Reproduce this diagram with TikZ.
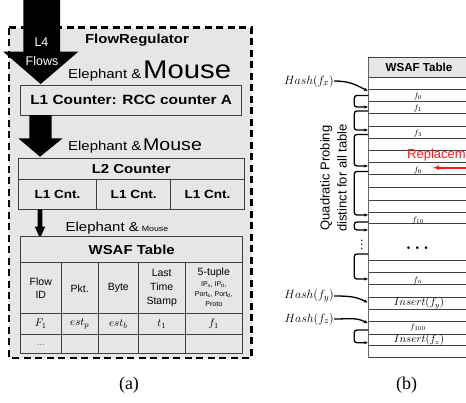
\documentclass[tikz,border=0pt]{standalone}
\usepackage{amsmath}
\usepackage{fontspec}
\usepackage{graphicx}
\setmainfont{Liberation Sans}
\newfontfamily\capfont{Liberation Serif}
\usetikzlibrary{arrows.meta,positioning}
\newcommand{\fsz}[1]{\fontsize{#1}{#1}\selectfont}
\newcommand{\wide}[1]{\scalebox{1.15}[1]{#1}}
\definecolor{panelgray}{HTML}{E6E6E6}
\definecolor{linegray}{HTML}{404040}
\definecolor{replred}{HTML}{FF1A1A}

\begin{document}
\begin{tikzpicture}[x=1pt,y=-1pt]
	\tikzstyle{every node}=[inner sep=0pt]
	\tikzstyle{box}=[draw=linegray, line width=0.9pt, fill=panelgray]
	\tikzstyle{grid}=[draw=linegray, line width=0.9pt]
	\tikzstyle{bigarrow}=[fill=black]
	\tikzstyle{probe}=[line width=1.3pt, rounded corners=2.5pt, -{Latex[length=4pt,width=3.5pt]}]
	\tikzstyle{hasharrow}=[line width=1.3pt, -{Latex[length=4pt,width=3.5pt]}]
	\tikzstyle{rowline}=[draw=black!75, line width=0.8pt]
	\useasboundingbox (0,0) rectangle (466,402);
	\clip (0,0) rectangle (466,402);

	\draw[line width=2.2pt, dash pattern=on 7pt off 4.5pt, fill=panelgray] (9.3,27.5) rectangle (251.5,358);
	\node[font=\bfseries\fsz{13}] (regulator) at (137,40) {\wide{FlowRegulator}};

	\node[anchor=base east, font=\fsz{13}] (eleph1) at (141.5,78) {\wide{Elephant \&}};
	\node[anchor=base west, font=\fsz{25.5}] (mouse1) at (143,78) {\wide{Mouse}};
	\draw[box] (20.7,85) rectangle (241.7,115);
	\node[font=\bfseries\fsz{13.4}] (l1counter) at (131.2,100) {\wide{L1 Counter: RCC counter A}};
	\fill[bigarrow] (23.3,-2) -- (60,-2) -- (60,51.7) -- (78.3,51.7) -- (40.7,84) -- (3.3,51.7) -- (23.3,51.7) -- cycle;
	\node[text=white, font=\fsz{12.5}] (l4) at (41.5,42.3) {L4};
	\node[text=white, font=\fsz{12.5}] (flows) at (42,61) {Flows};

	\node[anchor=base east, font=\fsz{13}] (eleph2) at (141.5,150.5) {\wide{Elephant \&}};
	\node[anchor=base west, font=\fsz{17}] (mouse2) at (143,150.5) {\wide{Mouse}};
	\fill[bigarrow] (29.3,115) -- (51.7,115) -- (51.7,138.3) -- (62.7,138.3) -- (40,156.7) -- (18.3,138.3) -- (29.3,138.3) -- cycle;
	\draw[box] (18.3,158.3) rectangle (244.3,209.3);
	\draw[grid] (18.3,179.3) -- (244.3,179.3);
	\draw[grid] (96.7,179.3) -- (96.7,209.3);
	\draw[grid] (170.7,179.3) -- (170.7,209.3);
	\node[font=\bfseries\fsz{13}] (l2counter) at (131.3,168.8) {\wide{L2 Counter}};
	\foreach \x [count=\i] in {57.5,133.7,207.5}
		\node[font=\bfseries\fsz{11.8}] (l1cnt\i) at (\x,194.3) {\wide{L1 Cnt.}};

	\fill[bigarrow] (37.7,209.3) -- (42.3,209.3) -- (42.3,226.7) -- (45.2,226.7) -- (40,238.3) -- (34.8,226.7) -- (37.7,226.7) -- cycle;
	\node[anchor=base east, font=\fsz{13}] (eleph3) at (139,231.5) {\wide{Elephant \&}};
	\node[anchor=base west, font=\fsz{7.6}] (mouse3) at (141.7,231.5) {\wide{Mouse}};

	\draw[box] (20.7,236.7) rectangle (242.7,353.3);
	\draw[grid] (20.7,262.3) -- (242.7,262.3);
	\draw[grid] (20.7,313.3) -- (242.7,313.3);
	\draw[grid] (20.7,334.3) -- (242.7,334.3);
	\foreach \x in {61,98.3,138.3,185}
		\draw[grid] (\x,262.3) -- (\x,353.3);
	\node[font=\bfseries\fsz{13}] (wsafa) at (131.7,249.5) {\wide{WSAF Table}};
	\node[font=\fontsize{10.5}{13.3}\selectfont, align=center] (hflow) at (40.8,288.3) {Flow\\ID};
	\node[font=\fsz{10.5}] (hpkt) at (79.7,288.3) {Pkt.};
	\node[font=\fsz{10.5}] (hbyte) at (118.3,288.3) {Byte};
	\node[font=\fontsize{10.5}{14}\selectfont, align=center] (hlast) at (161.7,288.3) {Last\\Time\\Stamp};
	\node[font=\fsz{10.5}] (htuple) at (213.8,272.7) {5-tuple};
	\node[font=\fontsize{7}{10}\selectfont, align=center] (htuplesub) at (213.8,294.3) {IP\textsubscript{s}, IP\textsubscript{d},\\Port\textsubscript{s}, Port\textsubscript{d},\\Proto};
	\node[font=\fsz{11}] (dflow) at (40.8,324) {$F_1$};
	\node[font=\fsz{11}] (dpkt) at (79.7,324) {$est_p$};
	\node[font=\fsz{11}] (dbyte) at (118.3,324) {$est_b$};
	\node[font=\fsz{11}] (dlast) at (161.7,324) {$t_1$};
	\node[font=\fsz{11}] (dtuple) at (213.8,324) {$f_1$};
	\node[font=\fsz{9}, text=black!60] (dmore) at (40.8,345) {...};

	\node[font=\capfont\fsz{18}] (capa) at (129,385) {(a)};

	\draw[box] (368.3,57.5) rectangle (472,77);
	\node[font=\bfseries\fsz{11.6}] (wsafb) at (419,67.5) {WSAF Table};
	\foreach \y in {89,101,113.5,126,138,150,162,174,187,200,212,223.5,260,272,284.5,297,309,321.7,334,345.7,357.7}
		\draw[rowline] (368.3,\y) -- (472,\y);
	\draw[draw=black!60, line width=0.8pt] (368.3,57.5) -- (368.3,357.7);
	\foreach \y/\t [count=\i] in {96.5/f_0, 108.5/f_1, 133/f_3, 170.5/f_6, 220/f_{10}, 280/f_n, 327/f_{100}}
		\node[font=\fsz{8}] (lab\i) at (418,\y) {$\t$};
	\node[font=\fsz{10.5}] (insy) at (419,303.3) {$Insert(f_y)$};
	\node[font=\fsz{10.5}] (insz) at (419,340) {$Insert(f_z)$};
	\node[font=\boldmath\fsz{16}] (rowdots) at (419,248) {$\cdots$};
	\node[font=\boldmath\fsz{12}] (probedots) at (361.7,241.5) {$\vdots$};

	\node[anchor=west, text=replred, font=\fsz{13}] (repl) at (407,155.5) {Replacement};
	\coordinate (rfrom) at (472,167.7);
	\coordinate (rto) at (433,167.7);
	\draw[replred, line width=1.8pt, -{Latex[length=6pt,width=5pt]}] (rfrom) -- (rto);

	\node[rotate=90, align=center, font=\fontsize{13}{17}\selectfont] (probing) at (333.5,178) {Quadratic Probing\\distinct for all table};

	\foreach \a/\b [count=\i] in {95.5/107, 111/130, 134.5/166, 171.5/215, 222/230, 254/279, 330/342.7} {
		\coordinate (pa\i) at (368.3,\a);
		\coordinate (pb\i) at (368.3,\b);
		\draw[probe] (pa\i) -- ++(-14,0) |- (pb\i);
	}

	\node[anchor=east, font=\fsz{12.5}] (hashx) at (334,81) {$Hash(f_x)$};
	\node[anchor=east, font=\fsz{12.5}] (hashy) at (334,296) {$Hash(f_y)$};
	\node[anchor=east, font=\fsz{12.5}] (hashz) at (334,319) {$Hash(f_z)$};
	\coordinate (tx) at (368,91);
	\coordinate (ty) at (368,302.7);
	\coordinate (tz) at (368,323.3);
	\draw[hasharrow] (hashx.east) .. controls +(16,0) and +(-12,-6) .. (tx);
	\draw[hasharrow] (hashy.east) .. controls +(16,0) and +(-12,-6) .. (ty);
	\draw[hasharrow] (hashz.east) .. controls +(16,0) and +(-12,-6) .. (tz);

	\node[font=\capfont\fsz{18}] (capb) at (406.7,385) {(b)};
\end{tikzpicture}
\end{document}
